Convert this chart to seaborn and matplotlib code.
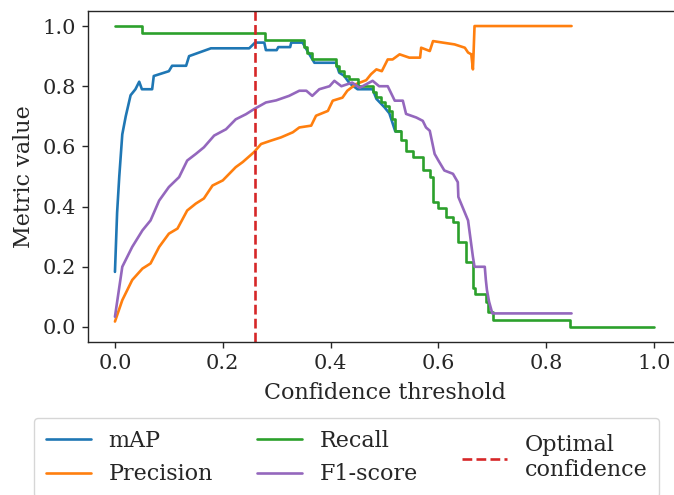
import numpy as np
import pandas as pd
import seaborn as sns
import matplotlib.pyplot as plt

sns.set_style("ticks")
plt.rcParams['font.family'] = ['DejaVu Serif']
plt.rcParams['axes.linewidth'] = 1.0
for a in ['xtick', 'ytick']:
    plt.rcParams[a + '.major.size'] = 4.4
    plt.rcParams[a + '.major.width'] = 1.0
    plt.rcParams[a + '.major.pad'] = 4.4

# Values
map_x = [0.0, 0.004, 0.008, 0.0136, 0.02, 0.029, 0.038, 0.045, 0.05, 0.069, 0.072, 0.1, 0.106,
         0.132, 0.1375, 0.178, 0.249, 0.26, 0.277, 0.28, 0.30, 0.303, 0.325, 0.327, 0.348,
         0.357, 0.37, 0.41, 0.416, 0.425, 0.435, 0.45, 0.478, 0.485, 0.5, 0.509, 0.52, 0.53]
map_y = [0.183, 0.38, 0.5, 0.64, 0.70, 0.77, 0.79, 0.815, 0.79, 0.79, 0.834, 0.85, 0.868,
         0.868, 0.90, 0.926, 0.926, 0.945, 0.945, 0.92, 0.92, 0.93, 0.93, 0.945, 0.945,
         0.917, 0.878, 0.878, 0.845, 0.835, 0.81, 0.79, 0.79, 0.758, 0.73, 0.71, 0.65, 0.65]

prec_x = [0.0, 0.0136, 0.032, 0.051, 0.066, 0.082, 0.1, 0.116, 0.134, 0.15, 0.165, 0.181, 0.2,
          0.212, 0.224, 0.237, 0.258, 0.271, 0.289, 0.308, 0.33, 0.342, 0.364, 0.373, 0.395,
          0.404, 0.422, 0.431, 0.447, 0.466, 0.475, 0.485, 0.495, 0.506, 0.515, 0.528, 0.546,
          0.566, 0.568, 0.584, 0.59, 0.608, 0.63, 0.649, 0.655, 0.661, 0.664, 0.665, 0.667, 0.847]
prec_y = [0.018, 0.089, 0.156, 0.194, 0.211, 0.266, 0.31, 0.327, 0.387, 0.41, 0.427, 0.47, 0.487,
          0.509, 0.531, 0.548, 0.581, 0.608, 0.619, 0.63, 0.647, 0.663, 0.669, 0.702, 0.718,
          0.752, 0.762, 0.785, 0.807, 0.82, 0.84, 0.856, 0.85, 0.889, 0.889, 0.906, 0.895,
          0.895, 0.928, 0.917, 0.95, 0.945, 0.939, 0.928, 0.912, 0.906, 0.856, 0.9, 1.0, 1.0]

rec_x = [0.0, 0.051, 0.279, 0.351, 0.357, 0.365, 0.41, 0.416, 0.425, 0.435, 0.45, 0.478, 0.485,
         0.493, 0.5, 0.509, 0.514, 0.519, 0.53, 0.539, 0.552, 0.571, 0.584, 0.59, 0.6, 0.614,
         0.627, 0.636, 0.637, 0.652, 0.664, 0.667, 0.688, 0.692, 0.701, 0.845, 1.0]
rec_y = [1.0, 0.976, 0.953, 0.93, 0.91, 0.89, 0.868, 0.85, 0.835, 0.823, 0.80, 0.78, 0.763,
         0.748, 0.735, 0.718, 0.69, 0.652, 0.62, 0.586, 0.564, 0.52, 0.50, 0.415, 0.394, 0.366,
         0.349, 0.321, 0.283, 0.216, 0.128, 0.111, 0.084, 0.051, 0.023, 0.0, 0.0]

f1_x = [0.0, 0.0136, 0.032, 0.051, 0.066, 0.082, 0.1, 0.119, 0.134, 0.15, 0.165, 0.184, 0.206,
        0.224, 0.243, 0.258, 0.28, 0.299, 0.323, 0.342, 0.355, 0.366, 0.379, 0.398, 0.407,
        0.42, 0.44, 0.454, 0.478, 0.49, 0.506, 0.519, 0.534, 0.54, 0.559, 0.571, 0.577, 0.584,
        0.593, 0.6, 0.611, 0.627, 0.636, 0.637, 0.655, 0.664, 0.667, 0.686, 0.688, 0.69, 0.694,
        0.70, 0.847]
f1_y = [0.034, 0.2, 0.266, 0.321, 0.354, 0.42, 0.465, 0.498, 0.553, 0.575, 0.597, 0.636, 0.657,
        0.69, 0.707, 0.724, 0.746, 0.753, 0.768, 0.785, 0.785, 0.768, 0.79, 0.80, 0.818,
        0.80, 0.812, 0.795, 0.818, 0.80, 0.80, 0.752, 0.752, 0.708, 0.696, 0.685, 0.663, 0.652,
        0.575, 0.553, 0.52, 0.509, 0.481, 0.432, 0.354, 0.233, 0.2, 0.2, 0.156, 0.123, 0.084,
        0.045, 0.045]

optimal_conf = 0.26

df_map = pd.DataFrame({'x': map_x, 'y': map_y})
df_prec = pd.DataFrame({'x': prec_x, 'y': prec_y})
df_rec = pd.DataFrame({'x': rec_x, 'y': rec_y})
df_f1 = pd.DataFrame({'x': f1_x, 'y': f1_y})

fig = plt.figure(figsize=(6.74, 4.95), dpi=100)
ax = fig.add_axes([88 / 674, 1 - 342 / 495, (681 - 88) / 674, (342 - 11) / 495])

lw = 1.9
sns.lineplot(data=df_map, x='x', y='y', ax=ax, color='#1f77b4', lw=lw, label='mAP',
             estimator=None, sort=False)
sns.lineplot(data=df_prec, x='x', y='y', ax=ax, color='#ff7f0e', lw=lw, label='Precision',
             estimator=None, sort=False)
sns.lineplot(data=df_rec, x='x', y='y', ax=ax, color='#2ca02c', lw=lw, label='Recall',
             estimator=None, sort=False, drawstyle='steps-post')
sns.lineplot(data=df_f1, x='x', y='y', ax=ax, color='#9467bd', lw=lw, label='F1-score',
             estimator=None, sort=False)
ax.axvline(optimal_conf, color='#d62728', ls='--', lw=1.9, label='Optimal\nconfidence')

ax.set_xlim(-0.05, 1.05)
ax.set_ylim(-0.05, 1.05)
ax.set_xticks([0.0, 0.2, 0.4, 0.6, 0.8, 1.0])
ax.set_yticks([0.0, 0.2, 0.4, 0.6, 0.8, 1.0])
ax.tick_params(labelsize=15)
ax.set_xlabel('Confidence threshold', fontsize=16, labelpad=6)
ax.set_ylabel('Metric value', fontsize=16, labelpad=5)

handles, labels = ax.get_legend_handles_labels()
ax.get_legend().remove()
leg = fig.legend(handles, labels, loc='upper left', bbox_to_anchor=(34 / 674, 1 - 418 / 495),
                 borderaxespad=0, borderpad=0.55, ncol=3, fontsize=16, frameon=True)
# centre the two-line entry against the two rows of the other columns
leg._legend_handle_box.align = 'center'

fig.savefig('out.png', dpi=100)
